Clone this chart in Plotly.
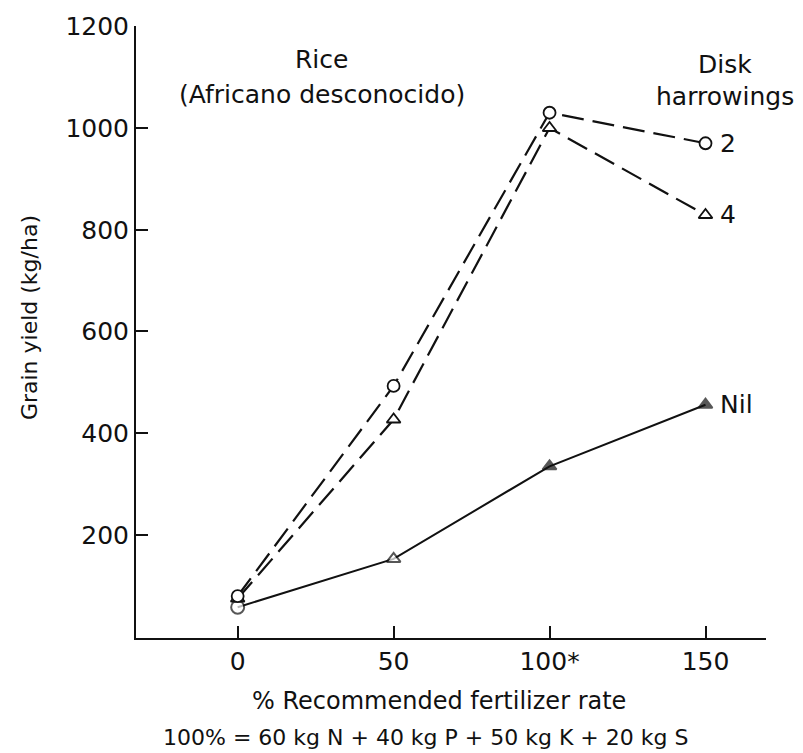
import plotly.graph_objects as go

# Data
rate = [0, 50, 100, 150]
yield_2 = [80, 493, 1030, 970]      # 2 disk harrowings
yield_4 = [75, 427, 1000, 829]      # 4 disk harrowings
yield_nil = [58, 153, 335, 456]     # Nil
x_ticks = [0, 50, 100, 150]
x_tick_labels = ["0", "50", "100*", "150"]
y_ticks = [200, 400, 600, 800, 1000, 1200]
y_tick_labels = ["200", "400", "600", "800", "1000", "1200"]

FONT = "DejaVu Sans"
BLACK = "#111111"

fig = go.Figure()

fig.add_trace(go.Scatter(
    x=rate, y=yield_nil, mode="lines+markers", name="Nil",
    line=dict(color=BLACK, width=2),
    marker=dict(symbol=["circle", "triangle-up", "triangle-up", "triangle-up"],
                color=["white", "white", BLACK, BLACK], size=[13, 12, 12, 12],
                line=dict(color=BLACK, width=2)),
))
fig.add_trace(go.Scatter(
    x=rate, y=yield_4, mode="lines+markers", name="4",
    line=dict(color=BLACK, width=2.2, dash="22px,9px"),
    marker=dict(symbol="triangle-up", color="white", size=12,
                line=dict(color=BLACK, width=1.8)),
))
fig.add_trace(go.Scatter(
    x=rate, y=yield_2, mode="lines+markers", name="2",
    line=dict(color=BLACK, width=2.2, dash="22px,9px"),
    marker=dict(symbol="circle", color="white", size=12,
                line=dict(color=BLACK, width=1.8)),
))

annots = [
    dict(x=27, y=1134, text="Rice", xanchor="center", yanchor="middle", size=25),
    dict(x=27, y=1066, text="(Africano desconocido)", xanchor="center", yanchor="middle", size=25),
    dict(x=156.3, y=1125, text="Disk", xanchor="center", yanchor="middle", size=25),
    dict(x=156.3, y=1062, text="harrowings", xanchor="center", yanchor="middle", size=25),
]
for a in annots:
    fig.add_annotation(x=a["x"], y=a["y"], xref="x", yref="y", text=a["text"],
                       showarrow=False, xanchor=a["xanchor"], yanchor=a["yanchor"],
                       font=dict(family=FONT, size=a["size"], color=BLACK))

# series end labels
for lab, yv in [("2", yield_2[-1]), ("4", yield_4[-1]), ("Nil", yield_nil[-1])]:
    fig.add_annotation(x=rate[-1], y=yv, xref="x", yref="y", text=lab, showarrow=False,
                       xanchor="left", yanchor="middle", xshift=12,
                       font=dict(family=FONT, size=25, color=BLACK))

# axis titles
fig.add_annotation(x=-0.168, y=0.523, xref="paper", yref="paper",
                   text="Grain yield (kg/ha)", textangle=-90, showarrow=False,
                   xanchor="center", yanchor="middle",
                   font=dict(family=FONT, size=22, color=BLACK))
fig.add_annotation(x=0.481, y=-0.1035, xref="paper", yref="paper",
                   text="% Recommended fertilizer rate", showarrow=False,
                   xanchor="center", yanchor="middle",
                   font=dict(family=FONT, size=24, color=BLACK))
fig.add_annotation(x=0.46, y=-0.1625, xref="paper", yref="paper",
                   text="100% = 60 kg N + 40 kg P + 50 kg K + 20 kg S", showarrow=False,
                   xanchor="center", yanchor="middle",
                   font=dict(family=FONT, size=22, color=BLACK))

fig.update_layout(
    width=803, height=753,
    margin=dict(l=136, r=37, t=19, b=115),
    plot_bgcolor="white", paper_bgcolor="white",
    showlegend=False,
    font=dict(family=FONT, color=BLACK),
)
fig.update_xaxes(
    range=[-32.6, 169.4], tickvals=x_ticks, ticktext=x_tick_labels,
    showgrid=False, zeroline=False, showline=True, linecolor=BLACK, linewidth=2,
    ticks="inside", ticklen=12, tickwidth=2, tickcolor=BLACK,
    tickfont=dict(family=FONT, size=25, color=BLACK),
)
fig.update_yaxes(
    range=[-2.5, 1200.5], tickvals=y_ticks, ticktext=y_tick_labels,
    showgrid=False, zeroline=False, showline=True, linecolor=BLACK, linewidth=2,
    ticks="inside", ticklen=12, tickwidth=2, tickcolor=BLACK,
    tickfont=dict(family=FONT, size=25, color=BLACK),
)

fig.write_html("out.html")
